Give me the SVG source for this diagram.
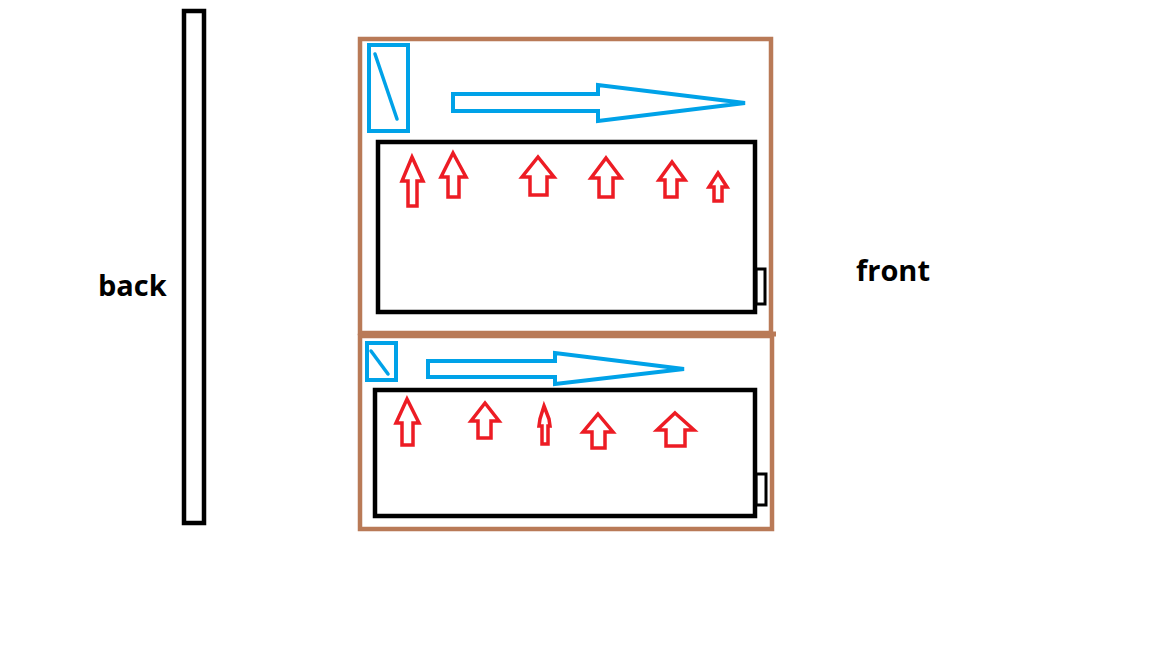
<svg xmlns="http://www.w3.org/2000/svg" width="1152" height="648" viewBox="0 0 1152 648">
<style>
.blk{fill:none;stroke:#000;stroke-width:4.5}
.brn{fill:none;stroke:#b97a57;stroke-width:4.5}
.blu{fill:none;stroke:#00a2e8;stroke-width:4;stroke-linejoin:miter}
.bln{fill:none;stroke:#00a2e8;stroke-width:3.5;stroke-linecap:round}
.red{fill:none;stroke:#ed1c24;stroke-width:3.5;stroke-linejoin:miter}
.lbl{font-family:"Open Sans","Liberation Sans",sans-serif;font-weight:bold;font-size:29px;fill:#000}
</style>
<rect width="1152" height="648" fill="#fff"/>
<g id="back-wall"><rect class="blk" x="184" y="11" width="20" height="512"/></g>
<g id="top-compartment">
<rect class="brn" x="360" y="39" width="411" height="294"/>
<rect class="blk" x="378" y="142" width="377" height="170"/>
<rect x="756" y="269" width="9" height="35" fill="none" stroke="#000" stroke-width="3"/>
<rect class="blu" x="369" y="45" width="39" height="86"/>
<line class="bln" x1="375" y1="54" x2="397" y2="119"/>
<polygon class="blu" stroke-width="3.5" points="453,94 598,94 598,85 745,103 598,121 598,111 453,111"/>
</g>
<g id="bottom-compartment">
<rect class="brn" x="360" y="336" width="412" height="193"/>
<line x1="360" y1="334" x2="776" y2="334" stroke="#b97a57" stroke-width="5"/>
<rect class="blk" x="375" y="390" width="380" height="126"/>
<rect x="756" y="474" width="10" height="31" fill="none" stroke="#000" stroke-width="3"/>
<rect class="blu" x="367" y="343" width="29" height="37"/>
<line class="bln" x1="371" y1="351" x2="388" y2="374"/>
<polygon class="blu" stroke-width="3.5" points="428,361 555,361 555,353 684,369 555,384 555,377 428,377"/>
</g>
<g id="airflow">
<polygon class="red" points="412,157 423,181 417,181 417,206 408,206 408,181 402,181"/>
<polygon class="red" points="453,153 466,177 459,177 459,197 448,197 448,177 441,177"/>
<polygon class="red" points="538,157 554,177 547,177 547,195 530,195 530,177 522,177"/>
<polygon class="red" points="606,158 621,178 613,178 613,197 599,197 599,178 591,178"/>
<polygon class="red" points="672,162 685,180 677,180 677,197 665,197 665,180 659,180"/>
<polygon class="red" points="718,173 727,187 722,187 722,201 714,201 714,187 709,187"/>
<polygon class="red" points="407,399 419,423 413,423 413,445 402,445 402,423 396,423"/>
<polygon class="red" points="485,403 499,421 491,421 491,438 478,438 478,421 471,421"/>
<polygon class="red" points="544,406 549,419 550,426 548,426 548,444 542,444 542,426 539,426 540,419" fill="#ed1c24"/>
<polygon class="red" points="598,414 613,432 605,432 605,448 592,448 592,432 583,432"/>
<polygon class="red" points="675,413 694,430 685,430 685,446 666,446 666,430 657,430"/>
</g>
<g id="labels">
<text class="lbl" x="98" y="296">back</text>
<text class="lbl" x="856" y="281">front</text>
</g>
</svg>
